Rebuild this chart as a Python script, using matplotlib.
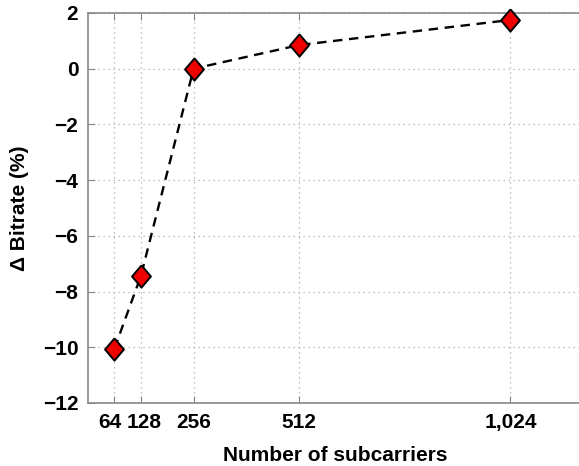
import matplotlib
matplotlib.use("Agg")
import matplotlib.pyplot as plt
from matplotlib.transforms import ScaledTranslation

subcarriers = [64, 128, 256, 512, 1024]
delta_bitrate = [-10.05, -7.45, 0.0, 0.85, 1.75]
xtick_labels = ["64", "128", "256", "512", "1,024"]
yticks = [-12, -10, -8, -6, -4, -2, 0, 2]

plt.rcParams['font.family'] = ['Liberation Sans', 'DejaVu Sans']
plt.rcParams['font.weight'] = 'bold'

fig = plt.figure(figsize=(5.79, 4.66), dpi=100)
ax = fig.add_axes([88/579, 63/466, 495/579, 390/466])

diamond = [(0, 1), (0.85, 0), (0, -1), (-0.85, 0), (0, 1)]
ax.plot(subcarriers, delta_bitrate, linestyle=(0, (4, 2.8)), color='black', lw=1.7,
        marker=diamond, markersize=16, markerfacecolor='#ee0000', markeredgecolor='black',
        markeredgewidth=1.4, zorder=3, clip_on=False)

ax.set_xlim(0, 1200)
ax.set_ylim(-12, 2)
ax.set_xticks(subcarriers)
ax.set_xticklabels(xtick_labels)
ax.set_yticks(yticks)
ax.grid(True, linestyle=(0, (1, 3)), color='#aaaaaa', lw=0.9)
ax.tick_params(direction='in', top=True, right=False, length=5, color='#888888',
               labelsize=15, pad=7)
for lab in ax.get_xticklabels() + ax.get_yticklabels():
    lab.set_fontweight('bold')
xl = ax.get_xticklabels()
xl[0].set_transform(xl[0].get_transform() + ScaledTranslation(-5/100, 0, fig.dpi_scale_trans))
xl[1].set_transform(xl[1].get_transform() + ScaledTranslation(3/100, 0, fig.dpi_scale_trans))
for s in ax.spines.values():
    s.set_color('#888888')
    s.set_linewidth(1.2)
ax.spines['right'].set_visible(False)

ax.set_xlabel("Number of subcarriers", fontsize=15, fontweight='bold', labelpad=10)
ax.set_ylabel("Δ Bitrate (%)", fontsize=15, fontweight='bold', labelpad=10)

fig.savefig("out.png", dpi=100)
